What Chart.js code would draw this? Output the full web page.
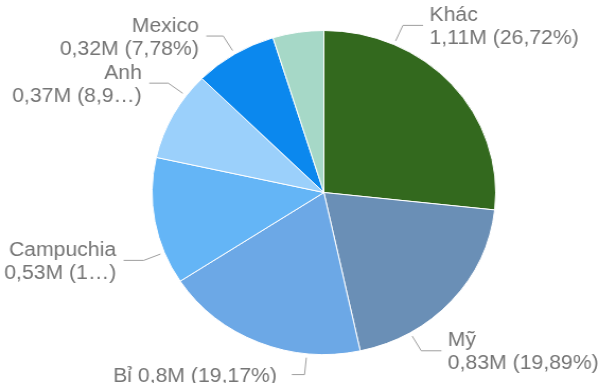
<!DOCTYPE html>
<html>
<head>
<meta charset="utf-8">
<script src="https://cdn.jsdelivr.net/npm/chart.js@4.4.1/dist/chart.umd.min.js"></script>
<style>
  html, body { margin: 0; padding: 0; background: #ffffff; overflow: hidden; }
  #wrap {
    position: absolute; left: 0; top: 0;
    width: 565px; height: 383px;
    transform: scaleX(1.0602); transform-origin: 0 0;
  }
</style>
</head>
<body>
<div id="wrap"><canvas id="chart"></canvas></div>
<script>
// Origin markets, values in thousands
const categories = ['Khác', 'Mỹ', 'Bỉ', 'Campuchia', 'Anh', 'Mexico', ''];
const values = [1110, 826.4, 796.5, 527.7, 371.9, 323.3, 199];
const colors = ['#33691e', '#6a8fb6', '#6ca8e6', '#64b5f6', '#9bd0fb', '#0b88ee', '#a6d8c7'];

// Leader/label placement for each slice: where along the slice the leader starts,
// how long its horizontal tail is, the gap before the text, one or two lines, max width
const labelLayout = [
  { at: 0.25, tail: 19, gap: 6, oneLine: false, maxWidth: 220 },
  { at: 0.75, tail: 19, gap: 6, oneLine: false, maxWidth: 220 },
  { at: 0.26, tail: 12, gap: 14, oneLine: true, maxWidth: 300 },
  { at: 0.25, tail: 19, gap: 7, oneLine: false, maxWidth: 110 },
  { at: 0.75, tail: 18, gap: 7, oneLine: false, maxWidth: 126 },
  { at: 0.5, tail: 16, gap: 7, oneLine: false, maxWidth: 220 },
  null
];

const FONT = '20px "Liberation Sans", Arial, sans-serif';
const TEXT_COLOR = '#757575';
const LEADER_COLOR = '#9e9e9e';
const LINE_GAP = 23;

function fmtM(v) {
  const m = Math.round(v / 10) / 100;
  return String(m).replace('.', ',') + 'M';
}
function fmtPct(p) {
  return p.toFixed(2).replace('.', ',') + '%';
}
function fitText(ctx, text, maxWidth) {
  if (ctx.measureText(text).width <= maxWidth) return text;
  let inner = text.slice(0, -1); // drop the closing paren
  while (inner.length > 1) {
    inner = inner.slice(0, -1);
    const t = inner + '…)';
    if (ctx.measureText(t).width <= maxWidth) return t;
  }
  return inner + '…)';
}

const pieLabels = {
  id: 'pieLabels',
  afterDatasetsDraw(chart) {
    const ctx = chart.ctx;
    const meta = chart.getDatasetMeta(0);
    const total = values.reduce((a, b) => a + b, 0);
    ctx.save();
    ctx.font = FONT;
    ctx.lineWidth = 1;
    meta.data.forEach((arc, i) => {
      const lay = labelLayout[i];
      if (!lay) return;
      const p = arc.getProps(['x', 'y', 'startAngle', 'endAngle', 'outerRadius'], true);
      const a = p.startAngle + lay.at * (p.endAngle - p.startAngle);
      const r0 = p.outerRadius + 4, r1 = p.outerRadius + 21;
      const sx = p.x + Math.cos(a) * r0, sy = p.y + Math.sin(a) * r0;
      const ex = p.x + Math.cos(a) * r1, ey = p.y + Math.sin(a) * r1;
      const right = Math.cos(a) >= 0 && !lay.oneLine;
      const dir = right ? 1 : -1;
      const tx = ex + dir * lay.tail;

      ctx.strokeStyle = LEADER_COLOR;
      ctx.beginPath();
      ctx.moveTo(sx, sy);
      ctx.lineTo(ex, ey);
      ctx.lineTo(tx, ey);
      ctx.stroke();

      const name = categories[i];
      const detail = fmtM(values[i]) + ' (' + fmtPct(values[i] / total * 100) + ')';
      ctx.fillStyle = TEXT_COLOR;
      ctx.textAlign = right ? 'left' : 'right';
      ctx.textBaseline = 'alphabetic';
      const x = tx + dir * lay.gap;
      const capMid = 7;
      if (lay.oneLine) {
        ctx.fillText(fitText(ctx, name + ' ' + detail, lay.maxWidth), x, ey + capMid);
      } else {
        ctx.fillText(name, x, ey - LINE_GAP / 2 + capMid);
        ctx.fillText(fitText(ctx, detail, lay.maxWidth), x, ey + LINE_GAP / 2 + capMid);
      }
    });
    ctx.restore();
  }
};

new Chart(document.getElementById('chart'), {
  type: 'pie',
  data: {
    labels: categories,
    datasets: [{
      data: values,
      backgroundColor: colors,
      borderColor: '#ffffff',
      borderWidth: 1
    }]
  },
  options: {
    responsive: true,
    maintainAspectRatio: false,
    animation: false,
    layout: { padding: { left: 143, right: 97, top: 30, bottom: 28 } },
    plugins: {
      legend: { display: false },
      tooltip: { enabled: false }
    }
  },
  plugins: [pieLabels]
});
</script>
</body>
</html>
